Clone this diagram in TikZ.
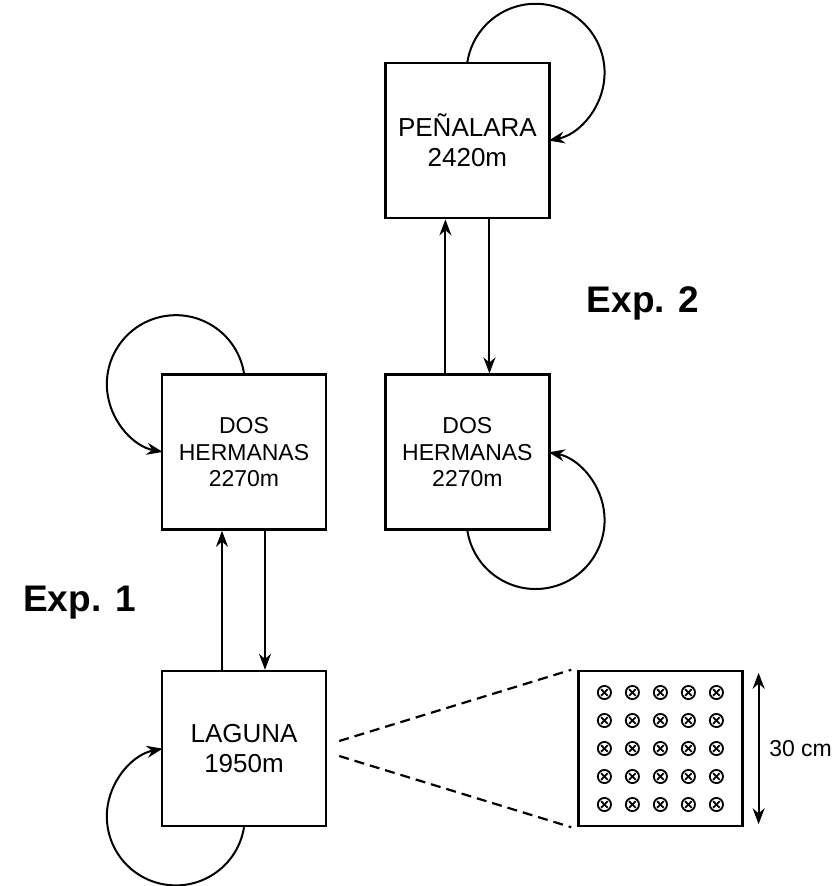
\documentclass[tikz,border=0pt]{standalone}
\usepackage{fontspec}
\setmainfont{Liberation Sans}
\usetikzlibrary{arrows.meta,positioning}

\begin{document}
\begin{tikzpicture}[
  font=\fontsize{11.5}{13.3}\selectfont,
  box/.style={draw, line width=1.2pt, minimum width=82pt, minimum height=77.5pt, inner sep=0pt, align=center},
  big/.style={font=\fontsize{13}{15}\selectfont},
  arr/.style={-{Stealth[length=8pt,width=6pt]}, line width=1pt},
  cone/.style={line width=1.1pt, dash pattern=on 5pt off 3pt},
  dim/.style={{Stealth[length=8pt,width=6pt]}-{Stealth[length=8pt,width=6pt]}, line width=1pt},
  cell/.style={line width=0.9pt},
  exp/.style={font=\fontsize{18.5}{22}\selectfont\bfseries}
]
  \useasboundingbox (0,0) rectangle (418pt,-443pt);

  \node[box, big] (lag) at (122pt,-374.25pt) {LAGUNA\\1950m};
  \node[box, above=69.5pt of lag] (dhl) {DOS\\HERMANAS\\2270m};
  \node[box, right=28.5pt of dhl] (dhr) {DOS\\HERMANAS\\2270m};
  \node[box, big, above=77pt of dhr] (pen) {PEÑALARA\\2420m};
  \node[box, right=125pt of lag] (grid) {};

  \node[exp] (exp1) at (39.75pt,-301.5pt) {Exp. 1};
  \node[exp] (exp2) at (321.5pt,-151.5pt) {Exp. 2};

  % moved up and down the slope
  \draw[arr] ([xshift=-11pt]lag.north) -- ([xshift=-11pt]dhl.south);
  \draw[arr] ([xshift=10.5pt]dhl.south) -- ([xshift=10.5pt]lag.north);
  \draw[arr] ([xshift=-11pt]dhr.north) -- ([xshift=-11pt]pen.south);
  \draw[arr] ([xshift=11pt]pen.south) -- ([xshift=11pt]dhr.north);

  % kept at the same site
  \draw[arr] (pen.north) arc[start angle=171, end angle=-79, radius=34.5pt];
  \draw[arr] (dhl.north) arc[start angle=9, end angle=259, radius=34.5pt];
  \draw[arr] (dhr.south) arc[start angle=-171, end angle=79, radius=34.5pt];
  \draw[arr] (lag.south) arc[start angle=-9, end angle=-259, radius=34.5pt];

  % plot layout
  \draw[cone] ([shift={(6pt,3.75pt)}]lag.east) -- ([xshift=-3pt]grid.north west);
  \draw[cone] ([shift={(6pt,-3.75pt)}]lag.east) -- ([xshift=-3pt]grid.south west);
  \foreach \i in {-2,...,2}
    \foreach \j in {-2,...,2}
      \draw[cell] ([shift={({\i*14pt},{\j*14pt})}]grid.center) circle[radius=3.3pt]
        +(45:2.3pt) -- +(225:2.3pt) +(135:2.3pt) -- +(-45:2.3pt);
  \draw[dim] ([shift={(7.5pt,-1.5pt)}]grid.north east) -- ([shift={(7.5pt,1.5pt)}]grid.south east)
    node[midway, right=1.5pt] (span) {30 cm};
\end{tikzpicture}
\end{document}
